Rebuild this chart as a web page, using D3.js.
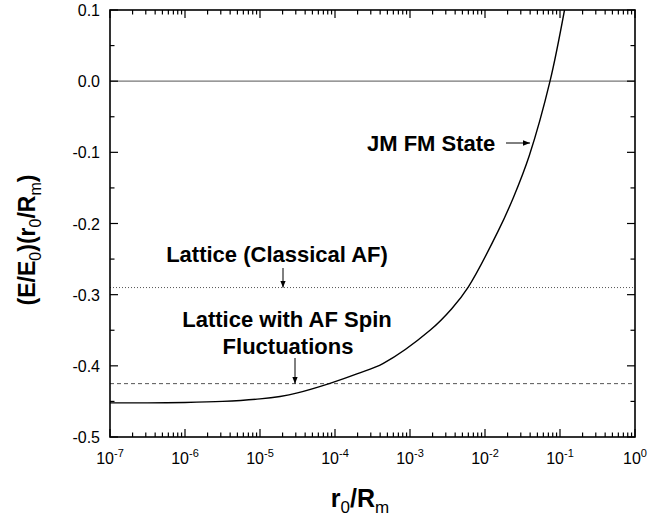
<!DOCTYPE html>
<html>
<head>
<meta charset="utf-8">
<script src="https://cdn.jsdelivr.net/npm/d3@7"></script>
<style>
body{margin:0;background:#fff;}
text{font-family:"Liberation Sans",Arial,sans-serif;}
</style>
</head>
<body>
<svg id="c" width="648" height="519"></svg>
<script>
// Data
const rValues = [1e-7, 3.16e-7, 1e-6, 3.16e-6, 1e-5, 1.85e-5, 3.16e-5, 8.57e-5, 2.0e-4, 4.41e-4, 1.85e-3, 3.6e-3, 5.98e-3, 0.0149, 0.024, 0.039, 0.0736, 0.1148];
const eValues = [-0.452, -0.452, -0.4515, -0.450, -0.4465, -0.443, -0.438, -0.4246, -0.411, -0.3965, -0.350, -0.3197, -0.2893, -0.2111, -0.163, -0.1044, 0.0, 0.1];
const latticeClassical = -0.29;
const latticeFluct = -0.425;
const xTickExps = [-7, -6, -5, -4, -3, -2, -1, 0];
const yTicks = [0.1, 0.0, -0.1, -0.2, -0.3, -0.4, -0.5];

const svg = d3.select("#c");
const L = 110, R = 635, T = 10, B = 437;
const x = d3.scaleLog().domain([1e-7, 1]).range([L, R]);
const y = d3.scaleLinear().domain([-0.5, 0.1]).range([B, T]);

const defs = svg.append("defs");
defs.append("marker").attr("id","ah").attr("viewBox","0 0 10 10").attr("refX",10).attr("refY",5)
  .attr("markerWidth",7).attr("markerHeight",7).attr("markerUnits","userSpaceOnUse").attr("orient","auto")
  .append("path").attr("d","M0,1 L10,5 L0,9 Z").attr("fill","#000");
defs.append("clipPath").attr("id","clip").append("rect").attr("x",L).attr("y",T).attr("width",R-L).attr("height",B-T);

// reference lines
svg.append("line").attr("x1",L).attr("x2",R).attr("y1",y(0)).attr("y2",y(0)).attr("stroke","#777").attr("stroke-width",1.2);
svg.append("line").attr("x1",L).attr("x2",R).attr("y1",y(latticeClassical)).attr("y2",y(latticeClassical))
  .attr("stroke","#555").attr("stroke-width",1).attr("stroke-dasharray","1,2");
svg.append("line").attr("x1",L).attr("x2",R).attr("y1",y(latticeFluct)).attr("y2",y(latticeFluct))
  .attr("stroke","#555").attr("stroke-width",1).attr("stroke-dasharray","4,3");

// curve
const data = rValues.map((r,i)=>({r, e:eValues[i]}));
svg.append("path").datum(data).attr("clip-path","url(#clip)")
  .attr("d", d3.line().x(d=>x(d.r)).y(d=>y(d.e)).curve(d3.curveCatmullRom.alpha(0.5)))
  .attr("fill","none").attr("stroke","#000").attr("stroke-width",1.4);

// axes
const minorX = [];
for (let e=-7; e<0; e++) for (let m=2; m<10; m++) minorX.push(m*Math.pow(10,e));
const majorX = xTickExps.map(e=>Math.pow(10,e));
const minorY = d3.range(-0.45, 0.1, 0.1);

const ax = svg.append("g").attr("stroke","#000").attr("stroke-width",1.2);
const MJ = 8, MN = 4.5;
majorX.forEach(v=>{
  ax.append("line").attr("x1",x(v)).attr("x2",x(v)).attr("y1",B).attr("y2",B-MJ);
  ax.append("line").attr("x1",x(v)).attr("x2",x(v)).attr("y1",T).attr("y2",T+MJ);
});
minorX.forEach(v=>{
  ax.append("line").attr("x1",x(v)).attr("x2",x(v)).attr("y1",B).attr("y2",B-MN);
  ax.append("line").attr("x1",x(v)).attr("x2",x(v)).attr("y1",T).attr("y2",T+MN);
});
yTicks.forEach(v=>{
  ax.append("line").attr("x1",L).attr("x2",L+MJ).attr("y1",y(v)).attr("y2",y(v));
  ax.append("line").attr("x1",R).attr("x2",R-MJ).attr("y1",y(v)).attr("y2",y(v));
});
minorY.forEach(v=>{
  ax.append("line").attr("x1",L).attr("x2",L+MN).attr("y1",y(v)).attr("y2",y(v));
  ax.append("line").attr("x1",R).attr("x2",R-MN).attr("y1",y(v)).attr("y2",y(v));
});
svg.append("rect").attr("x",L).attr("y",T).attr("width",R-L).attr("height",B-T)
  .attr("fill","none").attr("stroke","#000").attr("stroke-width",1.6);

// tick labels
yTicks.forEach(v=>{
  svg.append("text").attr("x",L-10).attr("y",y(v)+6).attr("text-anchor","end")
    .attr("font-size",16).text(v.toFixed(1));
});
xTickExps.forEach(e=>{
  const t = svg.append("text").attr("x",x(Math.pow(10,e))).attr("y",B+27).attr("text-anchor","middle").attr("font-size",16);
  t.append("tspan").text("10");
  t.append("tspan").attr("dy",-7).attr("font-size",11).text(String(e));
});

// axis titles
const xt = svg.append("text").attr("x",360).attr("y",507).attr("text-anchor","middle")
  .attr("font-size",25).attr("font-weight","bold");
xt.append("tspan").text("r");
xt.append("tspan").attr("dy",6).attr("font-size",17).attr("font-weight","normal").text("0");
xt.append("tspan").attr("dy",-6).text("/R");
xt.append("tspan").attr("dy",6).attr("font-size",17).attr("font-weight","normal").text("m");

const yt = svg.append("text").attr("transform","translate(35,240) rotate(-90)").attr("text-anchor","middle")
  .attr("font-size",23).attr("font-weight","bold");
yt.append("tspan").text("(E/E");
yt.append("tspan").attr("dy",6).attr("font-size",16).attr("font-weight","normal").text("0");
yt.append("tspan").attr("dy",-6).text(")(r");
yt.append("tspan").attr("dy",6).attr("font-size",16).attr("font-weight","normal").text("0");
yt.append("tspan").attr("dy",-6).text("/R");
yt.append("tspan").attr("dy",6).attr("font-size",16).attr("font-weight","normal").text("m");
yt.append("tspan").attr("dy",-6).text(")");

// annotations
const ann = (tx, ty, s) => svg.append("text").attr("x",tx).attr("y",ty).attr("text-anchor","middle")
  .attr("font-size",22).attr("font-weight","bold").text(s);
ann(277, 262, "Lattice (Classical AF)");
ann(287, 327, "Lattice with AF Spin");
ann(288, 354, "Fluctuations");
svg.append("text").attr("x",367).attr("y",151).attr("font-size",22).attr("font-weight","bold").text("JM FM State");

const arrow = (x1,y1,x2,y2)=>svg.append("line").attr("x1",x1).attr("y1",y1).attr("x2",x2).attr("y2",y2)
  .attr("stroke","#000").attr("stroke-width",1).attr("marker-end","url(#ah)");
arrow(283, 268, 283, y(latticeClassical));
arrow(295, 358, 295, y(latticeFluct));
arrow(506, 143, 530, 143);
</script>
</body>
</html>
